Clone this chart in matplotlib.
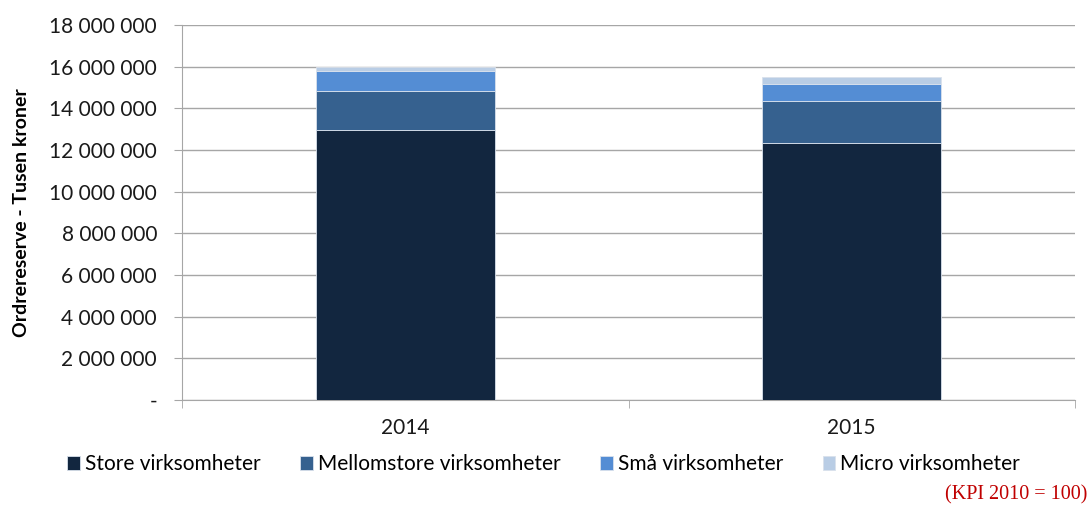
import matplotlib.pyplot as plt
from matplotlib.ticker import FuncFormatter, FixedLocator
import numpy as np

years = ["2014", "2015"]
store = [12960000, 12320000]
mellomstore = [1870000, 2050000]
smaa = [950000, 800000]
micro = [220000, 320000]

series = [
    ("Store virksomheter", store, "#12263F"),
    ("Mellomstore virksomheter", mellomstore, "#36618F"),
    ("Små virksomheter", smaa, "#548DD4"),
    ("Micro virksomheter", micro, "#B9CDE5"),
]

plt.rcParams['font.family'] = ['Lato', 'DejaVu Sans']

fig = plt.figure(figsize=(10.91, 5.07), dpi=100)
ax = fig.add_axes([182/1091, 1 - 400/507, (1075-182)/1091, 375/507])

x = np.arange(len(years))
bottom = np.zeros(len(years))
for name, vals, col in series:
    ax.bar(x, vals, width=0.4, bottom=bottom, color=col, label=name,
           edgecolor="#D9E1EC", linewidth=0.6, zorder=3)
    bottom += np.array(vals)

ax.set_xlim(-0.5, 1.5)
ax.set_ylim(0, 18000000)
ax.set_yticks(np.arange(0, 18000001, 2000000))


def fmt(v, pos):
    if v == 0:
        return "-"
    return f"{int(v):,}".replace(",", " ")


ax.yaxis.set_major_formatter(FuncFormatter(fmt))
ax.set_xticks(x)
ax.set_xticklabels(years)
ax.xaxis.set_minor_locator(FixedLocator([-0.5, 0.5, 1.5]))
ax.tick_params(axis='x', which='major', length=0, labelsize=15, pad=13, colors="#1a1a1a")
ax.tick_params(axis='x', which='minor', length=6, color="#A6A6A6")
ax.tick_params(axis='y', length=6, color="#A6A6A6", labelsize=15, pad=12, labelcolor="#1a1a1a")

ax.grid(axis='y', color="#A6A6A6", linewidth=1, zorder=0)
for s in ["top", "right"]:
    ax.spines[s].set_visible(False)
ax.spines["left"].set_color("#A6A6A6")
ax.spines["bottom"].set_color("#A6A6A6")

ax.set_ylabel("Ordrereserve - Tusen kroner", fontsize=14, fontweight="bold", labelpad=14)

ax.legend(loc="upper center", bbox_to_anchor=(0.405, -0.095), ncol=4, frameon=False,
          fontsize=15, handlelength=0.6, handleheight=0.6, handletextpad=0.25,
          columnspacing=1.9)

fig.text(0.997, 0.004, "(KPI 2010 = 100)", color="#C00000", ha="right", va="bottom",
         fontsize=14.5, family="Liberation Serif")

fig.savefig("out.png", dpi=100)
